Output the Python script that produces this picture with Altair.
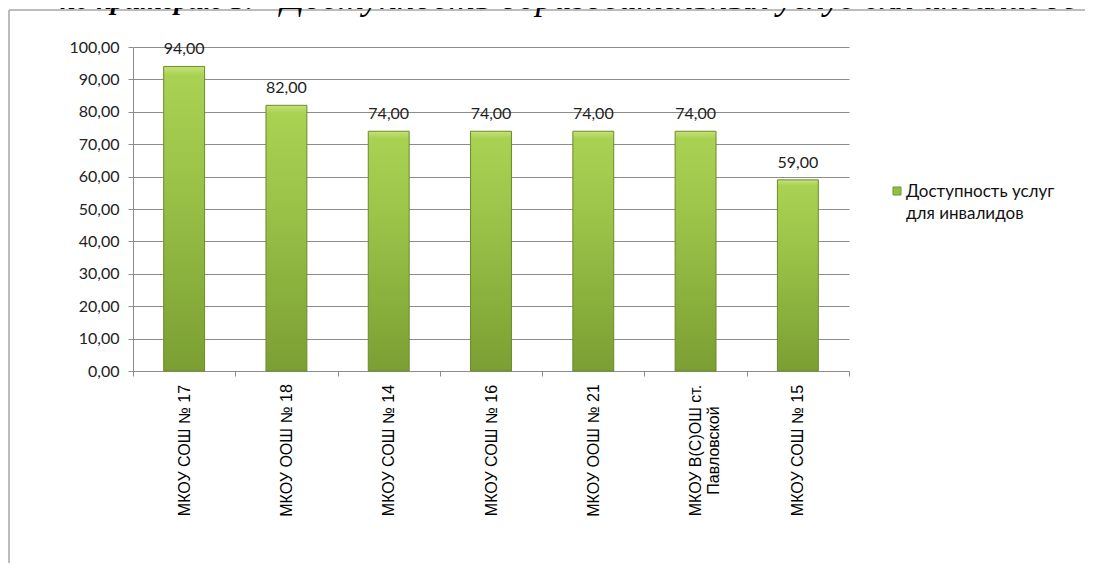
import altair as alt
import pandas as pd

# ---- data ----
categories = [
    "МКОУ СОШ № 17",
    "МКОУ ООШ № 18",
    "МКОУ СОШ № 14",
    "МКОУ СОШ № 16",
    "МКОУ ООШ № 21",
    "МКОУ В(С)ОШ ст.\nПавловской",
    "МКОУ СОШ № 15",
]
values = [94.0, 82.0, 74.0, 74.0, 74.0, 74.0, 59.0]
series_lines = ["Доступность услуг", "для инвалидов"]
y_ticks = [0, 10, 20, 30, 40, 50, 60, 70, 80, 90, 100]
title_bold = "по критерию 3:"
title_rest = "«Доступность образовательных услуг для инвалидов»"

df = pd.DataFrame({"school": categories, "value": values})
one = pd.DataFrame({"k": [0]})
legend_df = pd.DataFrame({"label": ["\n".join(series_lines)]})

W, H = 716, 324
PAD = {"left": 125, "top": 39, "right": 236, "bottom": 192}
TOTAL_W = PAD["left"] + W + PAD["right"]
TOTAL_H = PAD["top"] + H + PAD["bottom"]

GRID = "#8c8c8c"

bar_gradient = alt.LinearGradient(
    gradient="linear",
    stops=[
        alt.GradientStop(color="#c3e27a", offset=0.0),
        alt.GradientStop(color="#a9d152", offset=0.03),
        alt.GradientStop(color="#9cc449", offset=0.35),
        alt.GradientStop(color="#7b9f33", offset=1.0),
    ],
    x1=0, x2=0, y1=0, y2=1,
)

x_enc = alt.X(
    "school:N",
    sort=categories,
    title=None,
    scale=alt.Scale(paddingInner=0, paddingOuter=0),
    axis=alt.Axis(
        labelAngle=270,
        labelAlign="center",
        labelBaseline="middle",
        labelPadding=74,
        tickBand="extent",
        tickSize=5,
        tickColor=GRID,
        domainColor=GRID,
        labelFont="Liberation Sans",
        labelFontSize=16,
        labelColor="#000000",
        labelLimit=400,
        labelLineHeight=18,
        labelExpr="split(datum.label, '\\n')",
        grid=False,
    ),
)

y_enc = alt.Y(
    "value:Q",
    title=None,
    scale=alt.Scale(domain=[0, 100], nice=False, zero=True),
    axis=alt.Axis(
        values=y_ticks,
        labelExpr="replace(format(datum.value, '.2f'), '.', ',')",
        grid=True,
        gridColor=GRID,
        gridWidth=1,
        domainColor=GRID,
        tickColor=GRID,
        tickSize=5,
        labelPadding=9,
        labelFont="Lato",
        labelFontSize=16,
        labelColor="#222222",
    ),
)

base = alt.Chart(df).encode(x=x_enc, y=y_enc)

bars = base.mark_bar(
    width=alt.RelativeBandSize(0.4),
    color=bar_gradient,
    stroke="#6a8c2a",
    strokeWidth=1,
)

labels = base.transform_calculate(
    lbl="replace(format(datum.value, '.2f'), '.', ',')"
).mark_text(
    font="Lato", fontSize=16, color="#222222", baseline="alphabetic", dy=-12
).encode(text="lbl:N")

legend_sq = alt.Chart(one).mark_square(
    size=64, fill="#93bf45", stroke="#6f942c", strokeWidth=1, opacity=1
).encode(x=alt.value(897 - 133), y=alt.value(191 - 47))

legend_txt = alt.Chart(legend_df).mark_text(
    font="Lato", fontSize=17, color="#111111", align="left",
    baseline="alphabetic", lineBreak="\n", lineHeight=22
).encode(x=alt.value(906 - 133), y=alt.value(197 - 47), text="label:N")

title1 = alt.Chart(one).mark_text(
    font="Liberation Serif", fontSize=28, fontStyle="italic", fontWeight="bold",
    color="#000000", align="left", baseline="alphabetic", text=title_bold
).encode(x=alt.value(60 - 133), y=alt.value(9 - 47))

title2 = alt.Chart(one).mark_text(
    font="Liberation Serif", fontSize=36, fontStyle="italic",
    color="#000000", align="left", baseline="alphabetic", text=title_rest
).encode(x=alt.value(263 - 133), y=alt.value(9 - 47))

border_left = alt.Chart(one).mark_rule(color="#a6a6a6", strokeWidth=1.5).encode(
    x=alt.value(9 - 133), y=alt.value(10 - 47), y2=alt.value(TOTAL_H - PAD["top"])
)
border_top = alt.Chart(one).mark_rule(color="#a6a6a6", strokeWidth=1.5).encode(
    x=alt.value(9 - 133), x2=alt.value(TOTAL_W - PAD["left"]), y=alt.value(10 - 47)
)

chart = alt.layer(
    border_left, border_top, bars, labels, legend_sq, legend_txt, title1, title2
).properties(
    width=W,
    height=H,
    padding=PAD,
    autosize=alt.AutoSizeParams(type="none"),
    background="white",
).configure_view(stroke=None)

chart.save("out.html", embed_options={"renderer": "svg", "actions": False})
